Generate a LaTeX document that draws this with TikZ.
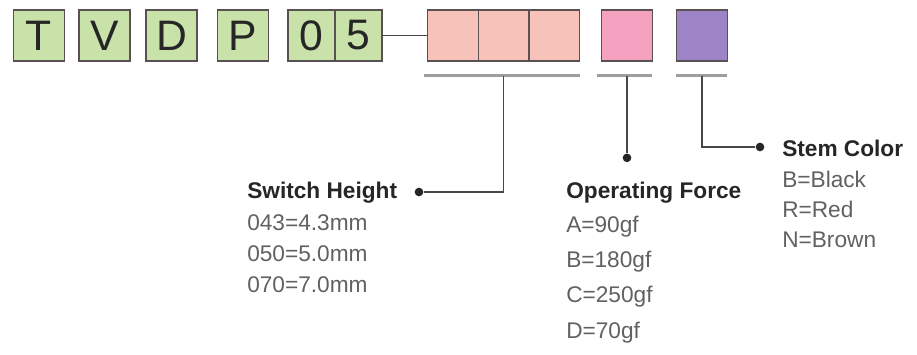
\documentclass[tikz,border=0pt]{standalone}
\usepackage{fontspec}
\setmainfont{Liberation Sans}
\usepackage{tikz}
\usetikzlibrary{positioning,calc}

\definecolor{codegreen}{RGB}{200,226,170}
\definecolor{heightpink}{RGB}{247,194,186}
\definecolor{forcepink}{RGB}{245,162,193}
\definecolor{stempurple}{RGB}{157,132,198}
\definecolor{cellline}{RGB}{90,82,82}

\begin{document}
\begin{tikzpicture}[
    x=0.75pt, y=-0.75pt,
    font=\fontsize{17}{20}\selectfont,
    cell/.style={draw=cellline, line width=1.2pt, outer sep=0pt, inner sep=0pt, minimum width=38pt, minimum height=38pt, font=\fontsize{32}{32}\selectfont, text=black!85},
    code/.style={cell, fill=codegreen},
    heading/.style={anchor=base west, inner sep=0pt, font=\fontsize{17}{20}\selectfont\bfseries, text=black!85},
    entry/.style={anchor=base west, inner sep=0pt, text=black!62},
    bar/.style={draw=black!38, line width=2.2pt},
    lead/.style={draw=black!72, line width=1.1pt},
    dot/.style={circle, fill=black!85, inner sep=0pt, minimum size=6.5pt}
]
\useasboundingbox (0,0) rectangle (917,354);

% part number
\node[code] (t) at (39,35.5) {T};
\node[code] (v) at (104.5,35.5) {V};
\node[code] (d) at (171.5,35.5) {D};
\node[code] (p) at (243,35.5) {P};
\node[code, minimum width=35.25pt] (n0) at (311.5,35.5) {0};
\node[code, minimum width=35.25pt, right=0pt of n0] (n5) {5};

\node[cell, fill=heightpink] (h1) at (453,35.5) {};
\node[cell, fill=heightpink, right=0pt of h1] (h2) {};
\node[cell, fill=heightpink, right=0pt of h2] (h3) {};
\node[cell, fill=forcepink] (f) at (627,35.5) {};
\node[cell, fill=stempurple] (c) at (702,35.5) {};

\draw[lead] (n5.east) -- (h1.west);

% underlines
\draw[bar] ($(h1.south west)+(-4,15)$) -- ($(h3.south east)+(0,15)$);
\draw[bar] ($(f.south west)+(-5,15)$) -- ($(f.south east)+(0,15)$);
\draw[bar] ($(c.south west)+(-1,15)$) -- ($(c.south east)+(0,15)$);

\coordinate (hb) at ($(h2.south)+(0,15)$);
\coordinate (fb) at ($(f.south)+(0,15)$);
\coordinate (cb) at ($(c.south)+(0,15)$);

\node[dot] (hdot) at (419,192) {};
\node[dot] (fdot) at ($(f.south)+(0,97)$) {};
\node[dot] (cdot) at (760,147) {};

\draw[lead] (hb) |- (hdot);
\draw[lead] (fb) -- (fdot);
\draw[lead] (cb) |- (cdot);

% legends
\node[heading] (height) at (247,198) {Switch Height};
\node[entry] (hv1) at (247,230) {043=4.3mm};
\node[entry] (hv2) at (247,261) {050=5.0mm};
\node[entry] (hv3) at (247,292) {070=7.0mm};

\node[heading] (force) at (566,198) {Operating Force};
\node[entry] (fv1) at (566,232) {A=90gf};
\node[entry] (fv2) at (566,267) {B=180gf};
\node[entry] (fv3) at (566,302) {C=250gf};
\node[entry] (fv4) at (566,338) {D=70gf};

\node[heading] (stem) at (782,156) {Stem Color};
\node[entry] (cv1) at (782,187) {B=Black};
\node[entry] (cv2) at (782,217) {R=Red};
\node[entry] (cv3) at (782,247) {N=Brown};
\end{tikzpicture}
\end{document}
